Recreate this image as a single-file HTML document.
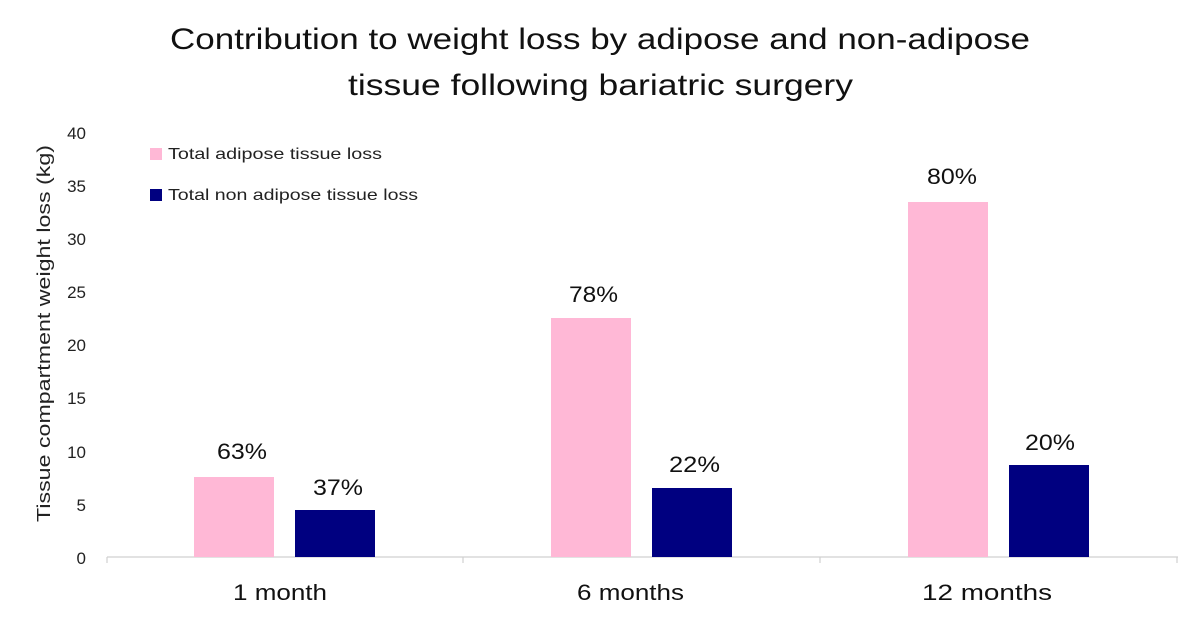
<!DOCTYPE html>
<html><head><meta charset="utf-8"><style>
body{margin:0;background:#fff;}
svg{display:block;font-family:"Liberation Sans",sans-serif;}
</style></head><body>
<svg width="1200" height="617" viewBox="0 0 1200 617">
<rect width="1200" height="617" fill="#fff"/>
<text x="170" y="49" font-size="30" fill="#111" textLength="860" lengthAdjust="spacingAndGlyphs">Contribution to weight loss by adipose and non-adipose</text>
<text x="348" y="95" font-size="30" fill="#111" textLength="505" lengthAdjust="spacingAndGlyphs">tissue following bariatric surgery</text>
<g font-size="17" fill="#222" text-anchor="end">
<text x="86" y="564">0</text><text x="86" y="511">5</text><text x="86" y="458">10</text><text x="86" y="404">15</text><text x="86" y="351">20</text><text x="86" y="298">25</text><text x="86" y="245">30</text><text x="86" y="192">35</text><text x="86" y="139">40</text>
</g>
<text transform="translate(50,522) rotate(-90)" font-size="18" fill="#222" textLength="377" lengthAdjust="spacingAndGlyphs">Tissue compartment weight loss (kg)</text>
<line x1="107" y1="557" x2="1178" y2="557" stroke="#d0d0d0" stroke-width="1.2"/>
<g stroke="#d0d0d0" stroke-width="1.2"><line x1="107" y1="557" x2="107" y2="563"/><line x1="463" y1="557" x2="463" y2="563"/><line x1="820" y1="557" x2="820" y2="563"/><line x1="1177" y1="557" x2="1177" y2="563"/></g>
<rect x="194" y="477" width="80" height="80" fill="#ffb8d6"/>
<rect x="295" y="510" width="80" height="47" fill="#000080"/>
<rect x="551" y="318" width="80" height="239" fill="#ffb8d6"/>
<rect x="652" y="488" width="80" height="69" fill="#000080"/>
<rect x="908" y="202" width="80" height="355" fill="#ffb8d6"/>
<rect x="1009" y="465" width="80" height="92" fill="#000080"/>
<g font-size="22" fill="#111">
<text x="217" y="459" textLength="50" lengthAdjust="spacingAndGlyphs">63%</text>
<text x="313" y="495" textLength="50" lengthAdjust="spacingAndGlyphs">37%</text>
<text x="569" y="302" textLength="49" lengthAdjust="spacingAndGlyphs">78%</text>
<text x="669" y="472" textLength="51" lengthAdjust="spacingAndGlyphs">22%</text>
<text x="927" y="184" textLength="50" lengthAdjust="spacingAndGlyphs">80%</text>
<text x="1025" y="450" textLength="50" lengthAdjust="spacingAndGlyphs">20%</text>
</g>
<g font-size="22" fill="#111">
<text x="233" y="600" textLength="94" lengthAdjust="spacingAndGlyphs">1 month</text>
<text x="577" y="600" textLength="107" lengthAdjust="spacingAndGlyphs">6 months</text>
<text x="922" y="600" textLength="130" lengthAdjust="spacingAndGlyphs">12 months</text>
</g>
<rect x="150" y="148" width="12" height="12" fill="#ffb8d6"/>
<rect x="150" y="189" width="12" height="12" fill="#000080"/>
<g font-size="16" fill="#222">
<text x="168" y="159" textLength="214" lengthAdjust="spacingAndGlyphs">Total adipose tissue loss</text>
<text x="168" y="200" textLength="250" lengthAdjust="spacingAndGlyphs">Total non adipose tissue loss</text>
</g>
</svg>
</body></html>
